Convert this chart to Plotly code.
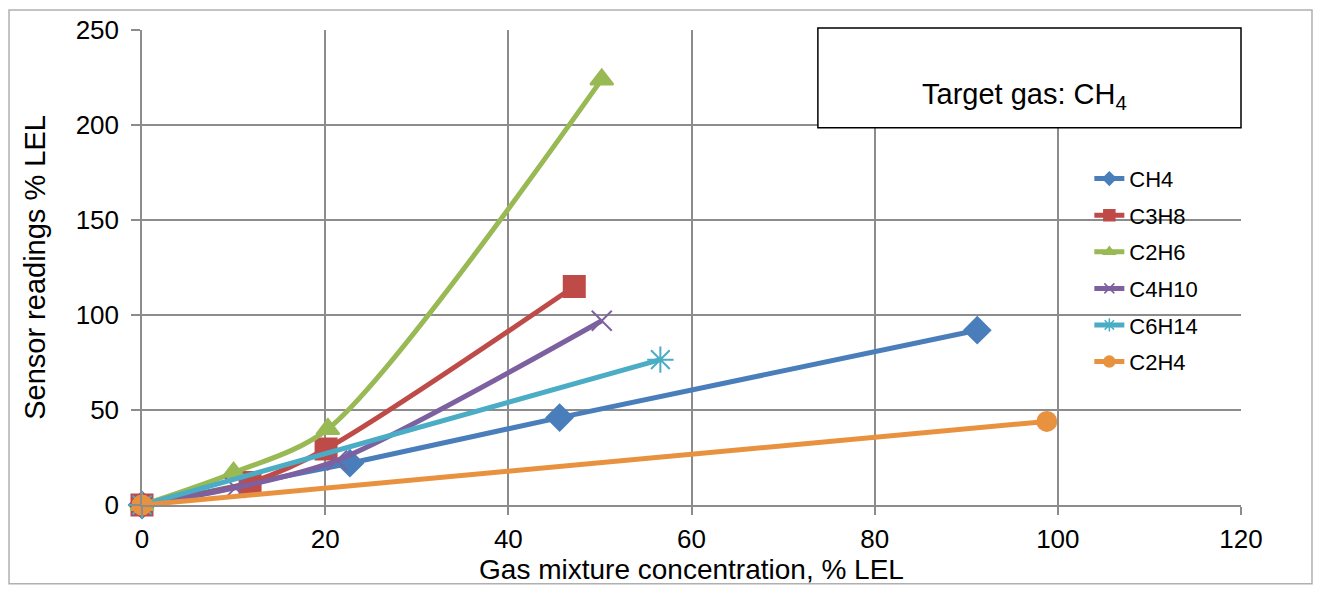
import plotly.graph_objects as go

names = ["CH4", "C3H8", "C2H6", "C4H10", "C6H14", "C2H4"]
x_ch4 = [0, 22.7, 45.6, 91.2]
y_ch4 = [0, 22, 46, 92]
x_c3h8 = [0, 11.8, 20.1, 47.2]
y_c3h8 = [0, 11.8, 29.5, 115]
x_c2h6 = [0, 10, 20.3, 50.2]
y_c2h6 = [0, 17, 40, 224]
x_c4h10 = [0, 10.2, 21.3, 50.2]
y_c4h10 = [0, 9, 23.5, 97]
x_c6h14 = [0, 56.6]
y_c6h14 = [0, 76.5]
x_c2h4 = [0, 98.8]
y_c2h4 = [0, 44]

xs = [x_ch4, x_c3h8, x_c2h6, x_c4h10, x_c6h14, x_c2h4]
ys = [y_ch4, y_c3h8, y_c2h6, y_c4h10, y_c6h14, y_c2h4]
colors = ["#4A7EBB", "#BE4B48", "#98B954", "#7D60A0", "#4BACC6", "#E8923F"]
symbols = ["diamond", "square", "triangle-up", "x-thin-open", "asterisk-open", "circle"]
sizes = [20, 21, 20, 20, 22, 19]
leg_sizes = [10, 11, 10, 10, 11, 11]

FONT = "Liberation Sans, Arial, sans-serif"

fig = go.Figure()
for i, n in enumerate(names):
    fig.add_trace(go.Scatter(
        x=xs[i], y=ys[i], name=n, mode="lines+markers",
        line=dict(color=colors[i], width=5, shape="spline", smoothing=0.8),
        marker=dict(symbol=symbols[i], size=sizes[i], color=colors[i],
                    line=dict(color=colors[i], width=2)),
        cliponaxis=False, showlegend=False,
    ))
for i, n in enumerate(names):
    fig.add_trace(go.Scatter(
        x=[None], y=[None], name=n, mode="lines+markers",
        line=dict(color=colors[i], width=5),
        marker=dict(symbol=symbols[i], size=leg_sizes[i], color=colors[i],
                    line=dict(color=colors[i], width=1.5)),
        legendgroup=n, showlegend=True,
    ))

# outer chart border
fig.add_shape(type="rect", xref="paper", yref="paper",
              x0=-0.121, x1=1.0646, y0=-0.166, y1=1.042,
              line=dict(color="#B0B0B0", width=1.5), layer="below")
# target gas box
fig.add_shape(type="rect", xref="paper", yref="paper",
              x0=0.615, x1=1.0, y0=0.794, y1=1.004,
              line=dict(color="black", width=1.5), fillcolor="white")
fig.add_annotation(xref="paper", yref="paper", x=0.803, y=0.862,
                   xanchor="center", yanchor="middle",
                   text="Target gas: CH<sub>4</sub>", showarrow=False,
                   font=dict(size=29, color="black", family=FONT))

fig.update_layout(
    width=1305, height=577,
    margin=dict(l=134, r=72, t=22, b=80, autoexpand=False),
    paper_bgcolor="white", plot_bgcolor="white",
    font=dict(family=FONT, color="black"),
    showlegend=True,
    legend=dict(x=0.862, y=0.731, xanchor="left", yanchor="top",
                font=dict(size=22), tracegroupgap=5,
                bgcolor="rgba(0,0,0,0)"),
    xaxis=dict(range=[0, 120], tickvals=[0, 20, 40, 60, 80, 100, 120],
               automargin=False,
               showgrid=True, gridcolor="#8C8C8C", gridwidth=1.5,
               showline=True, linecolor="#8C8C8C", linewidth=1.5,
               ticks="outside", ticklen=8, tickcolor="#8C8C8C", tickwidth=1.5,
               ticklabelstandoff=2,
               tickfont=dict(size=26), zeroline=False,
               title=dict(text="Gas mixture concentration, % LEL", font=dict(size=28), standoff=2)),
    yaxis=dict(range=[0, 250], tickvals=[0, 50, 100, 150, 200, 250],
               automargin=False,
               showgrid=True, gridcolor="#8C8C8C", gridwidth=1.5,
               showline=True, linecolor="#8C8C8C", linewidth=1.5,
               ticks="outside", ticklen=9, tickcolor="#8C8C8C", tickwidth=1.5,
               ticklabelstandoff=7,
               tickfont=dict(size=26), zeroline=False,
               title=dict(text="Sensor readings % LEL", font=dict(size=29), standoff=22)),
)

fig.write_html("out.html")
